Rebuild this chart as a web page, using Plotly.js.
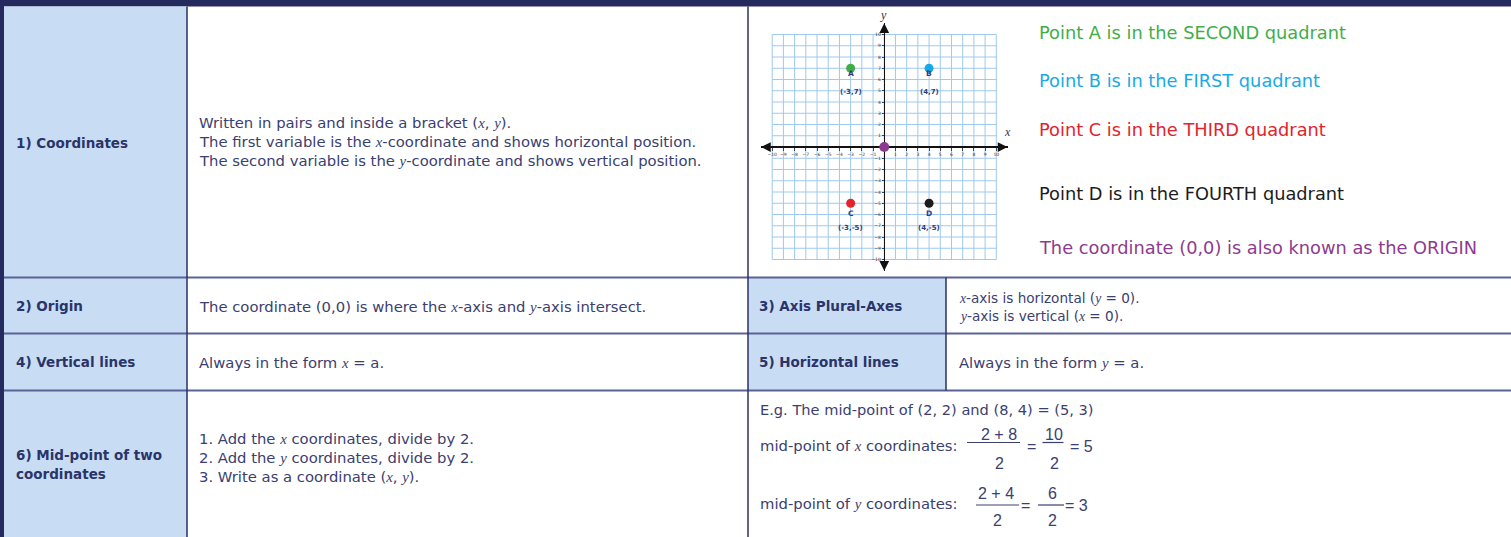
<!DOCTYPE html>
<html><head><meta charset="utf-8">
<script src="https://cdn.plot.ly/plotly-3.0.1.min.js"></script>
<style>html,body{margin:0;padding:0;background:#fff;overflow:hidden}#chart{width:1511px;height:537px}</style>
</head><body><div id="chart"></div>
<script>
// ---------------- data ----------------
const pointNames = ['A', 'B', 'C', 'D'];
const pointX = [-3, 4, -3, 4];
const pointY = [7, 7, -5, -5];
const pointColors = ['#3fae49', '#17aae6', '#e2242b', '#1c1c1c'];
const originX = [0];
const originY = [0];
const originColor = '#8e3b8f';
const gridValues = [-10, -9, -8, -7, -6, -5, -4, -3, -2, -1, 0, 1, 2, 3, 4, 5, 6, 7, 8, 9, 10];
const axisTickValues = [-10, -9, -8, -7, -6, -5, -4, -3, -2, -1, 1, 2, 3, 4, 5, 6, 7, 8, 9, 10];
const quadrantStatements = [
  'Point A is in the SECOND quadrant',
  'Point B is in the FIRST quadrant',
  'Point C is in the THIRD quadrant',
  'Point D is in the FOURTH quadrant',
  'The coordinate (0,0) is also known as the ORIGIN'
];
const quadrantColors = ['#3fae49', '#17aae6', '#e2242b', '#1c1c1c', '#8e3b8f'];
const rowLabels = ['1) Coordinates', '2) Origin', '3) Axis Plural-Axes', '4) Vertical lines', '5) Horizontal lines', '6) Mid-point of two', 'coordinates'];
const midA = [2, 2];
const midB = [8, 4];
const midResult = [5, 3];

// ---------------- helpers ----------------
const W = 1511, H = 537;
const PX = v => v / W;
const PY = v => 1 - v / H;
const FONT = '"DejaVu Sans", Verdana, sans-serif';
const NAVY = '#2b3468';
const BODY = '#3a4070';
const BLUE = '#c8ddf4';
const I = s => `<span style="font-family:'Liberation Serif',serif"><i>${s}</i></span>`;

const annotations = [];
function txt(x, y, text, opt) {
  opt = opt || {};
  annotations.push({
    xref: 'paper', yref: 'paper', x: PX(x), y: PY(y), text: text, showarrow: false,
    xanchor: opt.xanchor || 'left', yanchor: 'middle', align: 'left', borderpad: 0,
    font: { family: opt.family || FONT, size: opt.size || 14.8, color: opt.color || BODY, weight: opt.weight || 400 }
  });
}

// ---------------- table shapes ----------------
const shapes = [];
function rect(x0, y0, x1, y1, fill) {
  shapes.push({ type: 'rect', xref: 'paper', yref: 'paper', x0: PX(x0), x1: PX(x1), y0: PY(y1), y1: PY(y0), fillcolor: fill, line: { width: 0 }, layer: 'below' });
}
function line(x0, y0, x1, y1, color, width) {
  shapes.push({ type: 'line', xref: 'paper', yref: 'paper', x0: PX(x0), x1: PX(x1), y0: PY(y0), y1: PY(y1), line: { color: color, width: width }, layer: 'above' });
}
rect(0, 0, W, 6.5, '#252a5e');
rect(0, 0, 4, H, '#262b5f');
rect(4, 6.5, 187, H, BLUE);
rect(748, 277.5, 946, 390.5, BLUE);
line(4, 277.5, W, 277.5, '#5a6395', 2);
line(4, 333.5, W, 333.5, '#5a6395', 2);
line(4, 390.5, W, 390.5, '#5a6395', 2);
line(187, 6.5, 187, H, '#2a3162', 1.5);
line(748, 6.5, 748, H, '#2a3162', 1.5);
line(946, 277.5, 946, 390.5, '#2a3162', 1.5);

// grid lines of the coordinate plane (from gridValues)
const gMin = gridValues[0], gMax = gridValues[gridValues.length - 1];
gridValues.forEach(v => {
  shapes.push({ type: 'line', xref: 'x', yref: 'y', x0: v, x1: v, y0: gMin, y1: gMax, line: { color: '#9fc9ee', width: 1 }, layer: 'below' });
  shapes.push({ type: 'line', xref: 'x', yref: 'y', x0: gMin, x1: gMax, y0: v, y1: v, line: { color: '#9fc9ee', width: 1 }, layer: 'below' });
});

// ---------------- table text ----------------
const LBL = { size: 13.5, color: NAVY, weight: 700 };
txt(15, 143, rowLabels[0], LBL);
txt(15, 306, rowLabels[1], LBL);
txt(758, 306, rowLabels[2], LBL);
txt(15, 362, rowLabels[3], LBL);
txt(758, 362, rowLabels[4], LBL);
txt(15, 455, rowLabels[5], LBL);
txt(15, 474, rowLabels[6], LBL);

txt(198, 122.5, `Written in pairs and inside a bracket (${I('x')}, ${I('y')}).`);
txt(198, 141.5, `The first variable is the ${I('x')}-coordinate and shows horizontal position.`);
txt(198, 160.5, `The second variable is the ${I('y')}-coordinate and shows vertical position.`);
txt(198, 306, `The coordinate (0,0) is where the ${I('x')}-axis and ${I('y')}-axis intersect.`);
txt(958, 298, `${I('x')}-axis is horizontal (${I('y')} = 0).`, { size: 13.6 });
txt(958, 316, `${I('y')}-axis is vertical (${I('x')} = 0).`, { size: 13.6 });
txt(198, 362, `Always in the form ${I('x')} = a.`);
txt(958, 362, `Always in the form ${I('y')} = a.`);
txt(198, 438, `1. Add the ${I('x')} coordinates, divide by 2.`);
txt(198, 457, `2. Add the ${I('y')} coordinates, divide by 2.`);
txt(198, 476, `3. Write as a coordinate (${I('x')}, ${I('y')}).`);

// mid-point example
txt(759, 409, `E.g. The mid-point of (${midA[0]}, ${midA[1]}) and (${midB[0]}, ${midB[1]}) = (${midResult[0]}, ${midResult[1]})`, { size: 14.6 });
txt(759, 445.5, `mid-point of ${I('x')} coordinates:`);
txt(759, 503.5, `mid-point of ${I('y')} coordinates:`);
const NUM = { size: 16, xanchor: 'center', family: '"Liberation Sans", Arial, sans-serif' };
// x fraction
txt(999, 434, `${midA[0]} + ${midB[0]}`, NUM);
line(967, 442.5, 1020, 442.5, BODY, 1.2);
txt(999, 463, '2', NUM);
txt(1031.5, 446.5, '=', NUM);
txt(1054, 434, `${midA[0] + midB[0]}`, NUM);
line(1042.5, 442.5, 1063.5, 442.5, BODY, 1.2);
txt(1054, 463, '2', NUM);
txt(1069, 446.5, `= ${midResult[0]}`, Object.assign({}, NUM, { xanchor: 'left' }));
// y fraction
txt(996, 493.5, `${midA[1]} + ${midB[1]}`, NUM);
line(976, 505, 1019, 505, BODY, 1.2);
txt(997, 520.5, '2', NUM);
txt(1025, 505, '=', NUM);
txt(1052, 493.5, `${midA[1] + midB[1]}`, NUM);
line(1038, 505, 1064, 505, BODY, 1.2);
txt(1052, 520.5, '2', NUM);
txt(1064, 505, `= ${midResult[1]}`, Object.assign({}, NUM, { xanchor: 'left' }));

// quadrant statements
const quadY = [33, 80, 129, 193, 247];
quadrantStatements.forEach((s, i) => txt(1038, quadY[i], s, { size: 17.8, color: quadrantColors[i] }));

// axis name labels
annotations.push({ xref: 'paper', yref: 'paper', x: PX(883.5), y: PY(15), yanchor: 'middle', text: '<i>y</i>', showarrow: false, font: { family: 'Liberation Serif, serif', size: 12, color: '#333' } });
annotations.push({ xref: 'paper', yref: 'paper', x: PX(1013), y: PY(132), yanchor: 'middle', text: '<i>x</i>', showarrow: false, font: { family: 'Liberation Serif, serif', size: 12, color: '#333' } });

// arrowheads on axes
[[11, 0, 10, 0], [-11, 0, -10, 0], [0, 11, 0, 10], [0, -11, 0, -10]].forEach(a => {
  annotations.push({ xref: 'x', yref: 'y', axref: 'x', ayref: 'y', x: a[0], y: a[1], ax: a[2], ay: a[3], text: '', showarrow: true, arrowhead: 2, arrowsize: 1.3, arrowwidth: 1.5, arrowcolor: '#111', standoff: 0, startstandoff: 0 });
});

// point letter and coordinate labels
pointNames.forEach((n, i) => {
  const up = pointY[i] > 0;
  annotations.push({ xref: 'x', yref: 'y', x: pointX[i], y: pointY[i], yshift: up ? -5 : -10, text: `<b>${n}</b>`, showarrow: false, font: { family: FONT, size: 7.5, color: '#2e3b80' } });
  annotations.push({ xref: 'x', yref: 'y', x: pointX[i], y: pointY[i], yshift: up ? -24 : -25, text: `<b>(${pointX[i]},${pointY[i]})</b>`, showarrow: false, font: { family: FONT, size: 7, color: '#2e3b80' } });
});

// ---------------- traces ----------------
const traces = [
  { type: 'scatter', mode: 'markers', x: pointX, y: pointY, marker: { size: 9, color: pointColors }, hoverinfo: 'skip', cliponaxis: false },
  { type: 'scatter', mode: 'markers', x: originX, y: originY, marker: { size: 10, color: originColor }, hoverinfo: 'skip', cliponaxis: false }
];

const axisCommon = {
  range: [-11, 11], anchor: 'free', showgrid: false, zeroline: true, zerolinecolor: '#111', zerolinewidth: 1.5,
  showline: false, tickmode: 'array', tickvals: axisTickValues, ticks: 'outside', ticklen: 2.5, tickwidth: 0.8,
  tickcolor: '#222', tickfont: { family: FONT, size: 4.5, color: '#333' }, fixedrange: true
};
const layout = {
  width: W, height: H, margin: { l: 0, r: 0, t: 0, b: 0 }, paper_bgcolor: '#ffffff', plot_bgcolor: 'rgba(0,0,0,0)',
  showlegend: false,
  xaxis: Object.assign({}, axisCommon, { domain: [PX(761), PX(1007.5)], position: PY(147), side: 'bottom' }),
  yaxis: Object.assign({}, axisCommon, { domain: [PY(270.75), PY(23.25)], position: PX(884.25), side: 'left' }),
  shapes: shapes, annotations: annotations
};
Plotly.newPlot('chart', traces, layout, { staticPlot: true, displayModeBar: false });
</script></body></html>
